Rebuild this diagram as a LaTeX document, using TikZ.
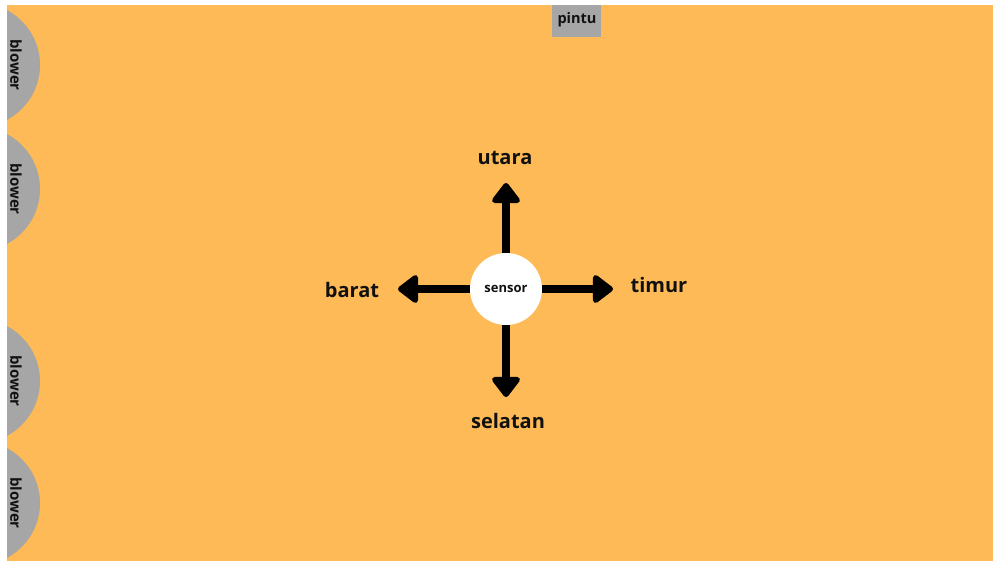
\documentclass[tikz,border=0pt]{standalone}
\usepackage{fontspec}
\setmainfont{Open Sans}
\usetikzlibrary{arrows.meta}
\definecolor{bgorange}{RGB}{253,186,87}
\definecolor{blowergray}{RGB}{166,166,166}
\definecolor{ink}{RGB}{17,17,17}
\tikzset{
  lbl/.style={font=\bfseries\fontsize{20}{24}\selectfont, text=ink, inner sep=0pt, anchor=base},
  blowerlbl/.style={font=\bfseries\fontsize{15}{18}\selectfont, text=ink, inner sep=0pt, rotate=-90},
  dirarrow/.style={line width=8pt, draw=black, -{Triangle[width=32pt,length=22pt,round]}},
}
\begin{document}
\begin{tikzpicture}[x=1pt,y=-1pt]
\useasboundingbox (0,0) rectangle (993,561);
\fill[white] (0,0) rectangle (993,561);
\fill[bgorange] (7,5) rectangle (993,561);
\begin{scope}
  \clip (7,5) rectangle (993,561);
  \foreach \yy in {65,189,381,503} \fill[blowergray] (-22,\yy) circle[radius=62pt];
\end{scope}
\node[blowerlbl] (b1) at (16,65) {blower};
\node[blowerlbl] (b2) at (16,189) {blower};
\node[blowerlbl] (b3) at (16,381) {blower};
\node[blowerlbl] (b4) at (16,503) {blower};
% pintu
\fill[blowergray] (552,5) rectangle (601,37);
\node[font=\bfseries\fontsize{14.5}{17}\selectfont, text=ink, inner sep=0pt, anchor=base] (pintu) at (577,24) {pintu};
% sensor
\node[circle, fill=white, minimum size=72pt, inner sep=0pt, font=\bfseries\fontsize{13}{15}\selectfont, text=ink] (sensor) at (506,289) {};
\node[inner sep=0pt, anchor=base, font=\bfseries\fontsize{13}{15}\selectfont, text=ink] (sensortxt) at (506,293) {sensor};
\coordinate (n) at (506,183);
\coordinate (s) at (506,397);
\coordinate (w) at (398,289);
\coordinate (e) at (613,289);
\draw[dirarrow] (sensor.north) -- (n);
\draw[dirarrow] (sensor.south) -- (s);
\draw[dirarrow] (sensor.west) -- (w);
\draw[dirarrow] (sensor.east) -- (e);
\node[lbl] (utara) at (505,165) {utara};
\node[lbl] (selatan) at (508,428) {selatan};
\node[lbl] (barat) at (352,298) {barat};
\node[lbl] (timur) at (659,293) {timur};
\end{tikzpicture}
\end{document}
